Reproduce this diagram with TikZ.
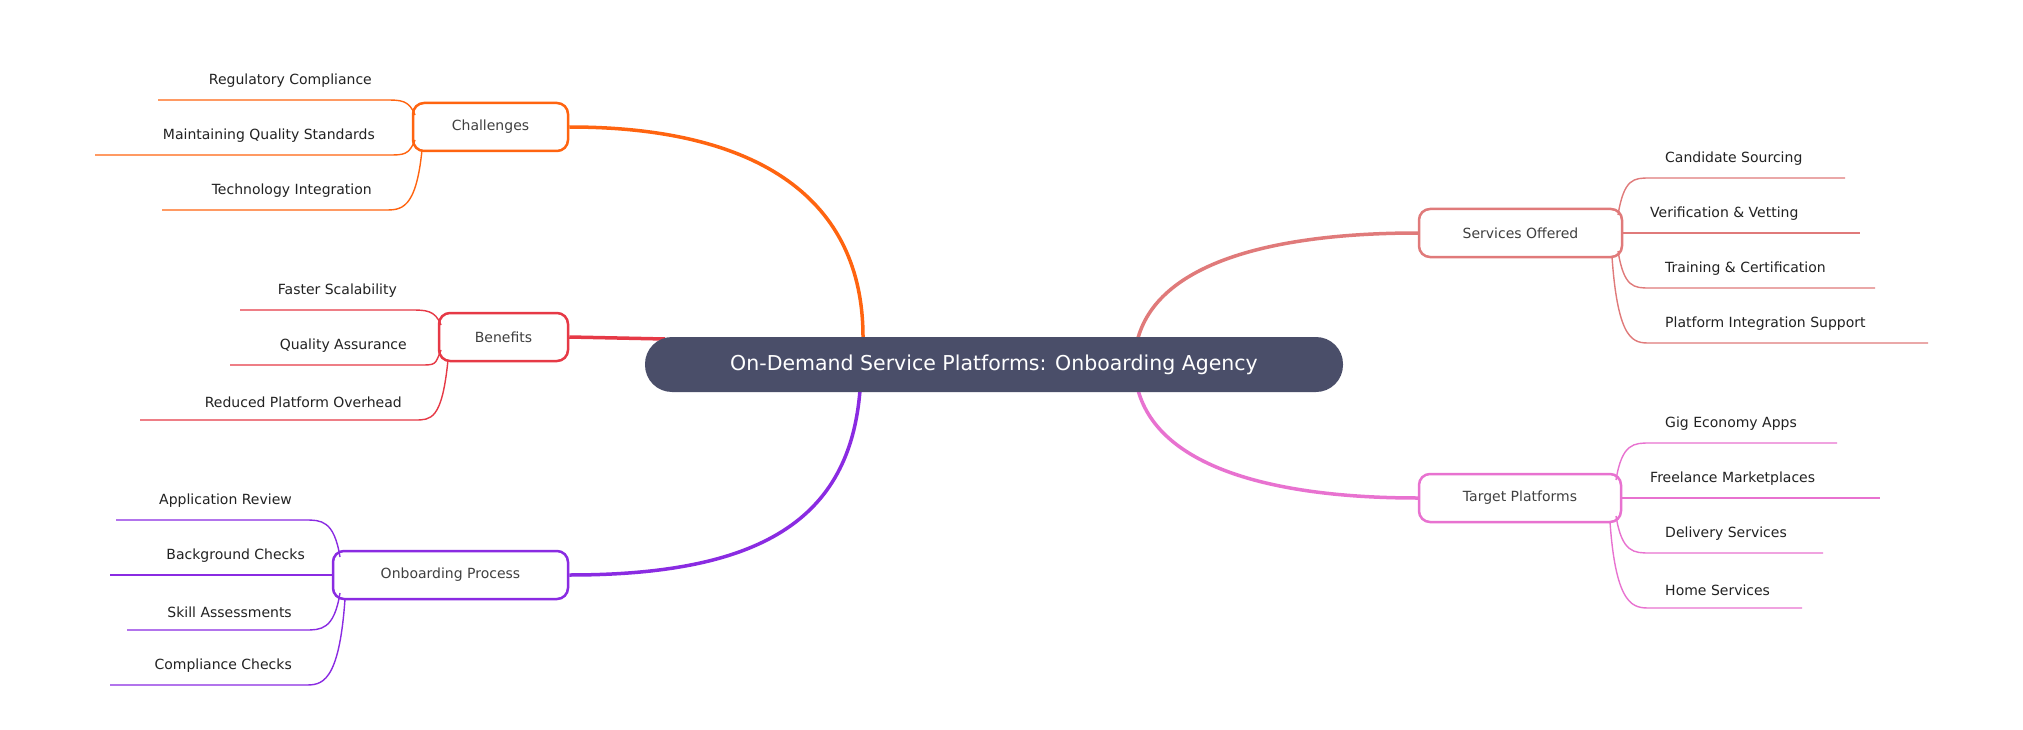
\documentclass[tikz,border=0pt]{standalone}
\usepackage{fontspec}
\setmainfont{DejaVu Sans}
\definecolor{cen}{HTML}{4A4E69}
\definecolor{cha}{HTML}{FF6410}
\definecolor{ben}{HTML}{E63946}
\definecolor{onb}{HTML}{8A2BE2}
\definecolor{ser}{HTML}{E07A7A}
\definecolor{tar}{HTML}{E872D0}
\definecolor{txt}{HTML}{222222}
\tikzset{
 branchbox/.style={draw,line width=2.5pt,rounded corners=11pt,fill=white,minimum height=48pt,text=black!75,font=\fontsize{14}{16}\selectfont,inner sep=0pt},
 leaftext/.style={font=\fontsize{14}{16}\selectfont,text=txt,inner sep=0pt},
 branchline/.style={line width=3.5pt},
 leafline/.style={line width=1.4pt}
}
% \leafL{color}{ax}{ay}{y}{xstart}{xend}{text}
\newcommand{\leafL}[7]{%
 \draw[leafline,#1] (#2,#3) .. controls (#2-6,#4) and (#6+16,#4) .. (#6,#4) -- (#5,#4);
 \node[leaftext,anchor=south east] at (#6-13,#4-12) {#7};}
\newcommand{\leafR}[7]{%
 \draw[leafline,#1] (#2,#3) .. controls (#2+6,#4) and (#5-16,#4) .. (#5,#4) -- (#6,#4);
 \node[leaftext,anchor=south west] at (#5+15,#4-12) {#7};}
\begin{document}
\begin{tikzpicture}[x=1pt,y=-1pt]
\useasboundingbox[fill=white] (0,0) rectangle (2023,730);
% branches
\coordinate (c1) at (863,337); \coordinate (c2) at (665,339); \coordinate (c3) at (860,390);
\coordinate (c4) at (1138,338); \coordinate (c5) at (1138,390);
\node[branchbox,draw=cha,minimum width=155pt] (ch) at (490.5,127) {Challenges};
\node[branchbox,draw=ben,minimum width=129pt] (be) at (503.5,337) {Benefits};
\node[branchbox,draw=onb,minimum width=235pt] (on) at (450.5,575) {Onboarding Process};
\node[branchbox,draw=ser,minimum width=203pt] (se) at (1520.5,233) {Services Offered};
\node[branchbox,draw=tar,minimum width=202pt] (ta) at (1520,498) {Target Platforms};
\draw[branchline,cha] (c1) .. controls (863,200) and (760,127) .. (ch.east);
\draw[branchline,ben] (c2) -- (be.east);
\draw[branchline,onb] (c3) .. controls (850,520) and (760,575) .. (on.east);
\draw[branchline,ser] (c4) .. controls (1160,260) and (1280,233) .. (se.west);
\draw[branchline,tar] (c5) .. controls (1160,470) and (1280,498) .. (ta.west);
\node[fill=cen,text=white,rounded corners=27pt,minimum width=698pt,minimum height=55pt,font=\fontsize{20.5}{24}\selectfont] (center) at (994,364.5) {On-Demand Service Platforms: Onboarding Agency};
% challenges leaves
\leafL{cha}{415}{115}{100}{158}{385}{Regulatory Compliance}
\leafL{cha}{415}{140}{155}{95}{388}{Maintaining Quality Standards}
\leafL{cha}{422}{150}{210}{162}{385}{Technology Integration}
% benefits
\leafL{ben}{441}{325}{310}{240}{410}{Faster Scalability}
\leafL{ben}{441}{350}{365}{230}{420}{Quality Assurance}
\leafL{ben}{448}{360}{420}{140}{415}{Reduced Platform Overhead}
% onboarding
\leafL{onb}{340}{557}{520}{116}{305}{Application Review}
\leafL{onb}{333}{575}{575}{110}{318}{Background Checks}
\leafL{onb}{340}{593}{630}{127}{305}{Skill Assessments}
\leafL{onb}{345}{599}{685}{110}{305}{Compliance Checks}
% services
\leafR{ser}{1618}{215}{178}{1650}{1845}{Candidate Sourcing}
\leafR{ser}{1622}{233}{233}{1635}{1860}{Verification \& Vetting}
\leafR{ser}{1618}{251}{288}{1650}{1875}{Training \& Certification}
\leafR{ser}{1612}{257}{343}{1650}{1928}{Platform Integration Support}
% target
\leafR{tar}{1616}{480}{443}{1650}{1837}{Gig Economy Apps}
\leafR{tar}{1621}{498}{498}{1635}{1880}{Freelance Marketplaces}
\leafR{tar}{1616}{516}{553}{1650}{1823}{Delivery Services}
\leafR{tar}{1610}{522}{608}{1650}{1802}{Home Services}
\end{tikzpicture}
\end{document}
